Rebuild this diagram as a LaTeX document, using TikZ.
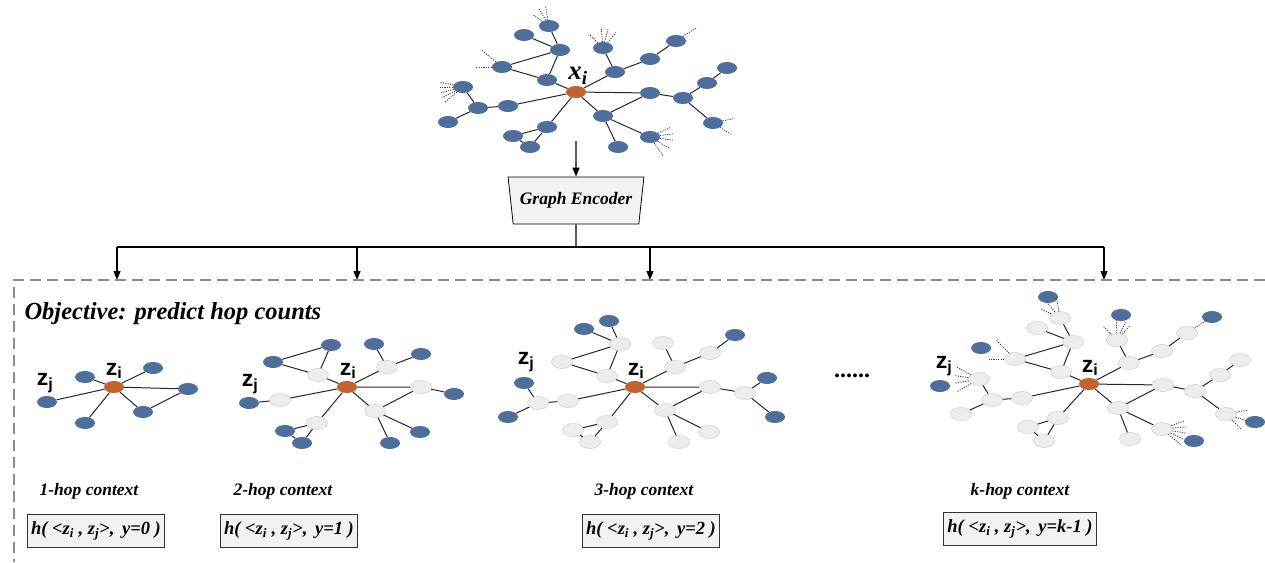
\documentclass[tikz,border=0pt]{standalone}
\usepackage{fontspec}
\setmainfont{Liberation Serif}
\setsansfont{Liberation Sans}
\usetikzlibrary{shapes.geometric,arrows.meta}
\definecolor{nodeblue}{HTML}{4E6F9C}
\definecolor{hubor}{HTML}{C4622D}
\definecolor{pale}{HTML}{EDEDED}
\definecolor{paleedge}{HTML}{CDD3DC}
\definecolor{boxgray}{HTML}{F2F2F2}
\definecolor{dashgray}{HTML}{8C8C8C}
\tikzset{
  bn/.style={ellipse, fill=nodeblue, minimum width=20pt, minimum height=12pt, inner sep=0pt},
  wn/.style={ellipse, fill=pale, draw=paleedge, line width=0.6pt, minimum width=21pt, minimum height=13pt, inner sep=0pt},
  hub/.style={ellipse, fill=hubor, minimum width=20pt, minimum height=12pt, inner sep=0pt},
  link/.style={draw=black!85, line width=1pt},
  fan/.style={draw=black!75, line width=0.8pt, dash pattern=on 1.2pt off 1.2pt},
  flow/.style={draw=black, line width=1.3pt},
  flowarrow/.style={flow, -{Triangle[length=9pt,width=7pt]}},
  enc/.style={trapezium, trapezium left angle=74, trapezium right angle=74, shape border rotate=180,
    draw=black, line width=0.8pt, fill=boxgray, minimum width=136pt, minimum height=47pt, inner sep=0pt,
    trapezium stretches=true, font=\fontsize{17.5}{19}\selectfont\bfseries\itshape},
  ctx/.style={font=\fontsize{17.5}{19}\selectfont\bfseries\itshape},
  hbox/.style={draw=black!80, line width=1pt, fill=boxgray, inner xsep=4pt, inner ysep=7.5pt,
    font=\fontsize{18.5}{20}\selectfont\bfseries\itshape},
  zlab/.style={font=\fontsize{23}{25}\selectfont\sffamily\bfseries},
  xlab/.style={font=\fontsize{27}{29}\selectfont\bfseries\itshape},
  objlab/.style={font=\fontsize{24.5}{27}\selectfont\bfseries\itshape},
  dotslab/.style={font=\fontsize{24}{26}\selectfont\bfseries},
}
\newcommand\dotfan[3]{\foreach \a in {#2} {\draw[fan] (#1) -- ++(\a:#3);}}
\begin{document}
\begin{tikzpicture}[x=1pt,y=-1pt]
\useasboundingbox (0,0) rectangle (1265,562);

% ---------- input graph ----------
\node[hub] (t0) at (576,92) {};
\node[xlab] (tlab) at (578,76) {x\textsubscript{i}};
\foreach \n/\x/\y in {A/549/26,B/524/35,C/560/50,D/502/67,E/547/80,F/603/48,G/615/72,H/650/59,I/676/41,
  J/650/93,K/683/98,L/707/83,M/727/68,N/713/123,O/603/116,P/650/137,Q/618/147,R/547/127,S/513/136,
  T/530/147,U/508/106,V/478/108,W/463/87,X/448/122}
  {\node[bn] (t\n) at (\x,\y) {};}
\draw[link] (tA)--(tC) (tB)--(tC) (tC)--(tD) (tC)--(tE) (tD)--(tE) (tE)--(t0)
  (tF)--(tG) (tG)--(t0) (tG)--(tH) (tH)--(tI) (t0)--(tJ) (tJ)--(tK) (tK)--(tL) (tL)--(tM) (tK)--(tN)
  (t0)--(tO) (tO)--(tJ) (tO)--(tP) (tO)--(tQ) (t0)--(tR) (tR)--(tS) (tR)--(tT) (tS)--(tT)
  (t0)--(tU) (tU)--(tV) (tV)--(tW) (tV)--(tX);
\dotfan{tA}{100,120,145}{20pt}
\dotfan{tD}{140,180}{26pt}
\dotfan{tF}{135,95,75,50}{20pt}
\dotfan{tI}{33}{25pt}
\dotfan{tW}{168,180,195,207,220}{24pt}
\dotfan{tN}{12,-32}{21pt}
\dotfan{tP}{25,8,-8,-30,-55}{23pt}

% ---------- encoder and fan-out ----------
\node[enc] (encoder) at (576,200.5) {Graph Encoder};
\coordinate (src) at (576,141);
\draw[flowarrow] (src) -- (encoder.north);
\coordinate (bus) at (576,247);
\coordinate (busL) at (117,247);
\coordinate (busR) at (1104,247);
\coordinate (bus2) at (357,247);
\coordinate (bus3) at (650,247);
\coordinate (d1) at (117,280);
\coordinate (d2) at (357,280);
\coordinate (d3) at (650,280);
\coordinate (d4) at (1104,280);
\draw[flow] (encoder.south) -- (bus);
\draw[flow] (busL) -- (busR);
\draw[flowarrow] (busL) -- (d1);
\draw[flowarrow] (bus2) -- (d2);
\draw[flowarrow] (bus3) -- (d3);
\draw[flowarrow] (busR) -- (d4);

% ---------- objective frame ----------
\draw[dashgray, line width=1.5pt, dash pattern=on 11pt off 6pt] (1265,280) -- (14,280) -- (14,562);
\node[objlab, anchor=base west] (objective) at (21,319) {Objective: predict hop counts};

% ---------- 1-hop ----------
\node[hub] (p1) at (114,387) {};
\node[zlab] (p1i) at (114,371) {z\textsubscript{i}};
\node[zlab] (p1j) at (45,383) {z\textsubscript{j}};
\foreach \n/\x/\y in {a/47/402,b/85/377,c/153/368,d/188/389,e/143/412,f/85/423}
  {\node[bn] (p1\n) at (\x,\y) {};}
\draw[link] (p1)--(p1a) (p1)--(p1b) (p1)--(p1c) (p1)--(p1d) (p1)--(p1e) (p1e)--(p1d) (p1)--(p1f);

% ---------- 2-hop ----------
\node[hub] (p2) at (347,387) {};
\node[zlab] (p2i) at (348,371) {z\textsubscript{i}};
\node[zlab] (p2j) at (250,384) {z\textsubscript{j}};
\foreach \n/\x/\y in {g1/331/345,g2/273/362,g3/374/344,g4/421/354,g5/249/403,g6/454/394,g7/420/432,
  g8/390/443,g9/285/431,g10/302/443}
  {\node[bn] (p2\n) at (\x,\y) {};}
\foreach \n/\x/\y in {w1/318/375,w2/387/367,w3/280/400,w4/421/387,w5/375/411,w6/317/423}
  {\node[wn] (p2\n) at (\x,\y) {};}
\draw[link] (p2g1)--(p2g2) (p2w1)--(p2g1) (p2w1)--(p2g2) (p2w1)--(p2)
  (p2g3)--(p2w2) (p2w2)--(p2g4) (p2w2)--(p2)
  (p2w3)--(p2) (p2w3)--(p2g5) (p2w4)--(p2) (p2w4)--(p2g6)
  (p2w5)--(p2) (p2w5)--(p2g7) (p2w5)--(p2g8) (p2w5)--(p2w4)
  (p2w6)--(p2) (p2w6)--(p2g9) (p2w6)--(p2g10) (p2g9)--(p2g10);

% ---------- 3-hop ----------
\node[hub] (p3) at (635,387) {};
\node[zlab] (p3i) at (636,371) {z\textsubscript{i}};
\node[zlab] (p3j) at (526,362) {z\textsubscript{j}};
\foreach \n/\x/\y in {b1/584/329,b2/609/321,b3/735/335,b4/524/383,b5/508/417,b6/767/378,b7/775/417}
  {\node[bn] (p3\n) at (\x,\y) {};}
\foreach \n/\x/\y in {a/620/344,b/562/362,c/607/376,d/663/343,e/675/367,f/710/353,g/538/403,h/568/401,
  i/710/387,j/745/393,k/665/410,l/709/432,m/679/442,n/607/422,o/573/430,p/590/442}
  {\node[wn] (p3\n) at (\x,\y) {};}
\draw[link] (p3b1)--(p3a) (p3b2)--(p3a) (p3a)--(p3b) (p3a)--(p3c) (p3b)--(p3c) (p3c)--(p3)
  (p3d)--(p3e) (p3e)--(p3) (p3e)--(p3f) (p3f)--(p3b3)
  (p3b4)--(p3g) (p3g)--(p3b5) (p3g)--(p3h) (p3h)--(p3)
  (p3)--(p3i) (p3i)--(p3j) (p3j)--(p3b6) (p3j)--(p3b7)
  (p3)--(p3k) (p3k)--(p3i) (p3k)--(p3l) (p3k)--(p3m)
  (p3)--(p3n) (p3n)--(p3o) (p3n)--(p3p) (p3o)--(p3p);

\node[dotslab] (gap) at (852,376) {......};

% ---------- k-hop ----------
\node[hub] (pk) at (1089,384) {};
\node[zlab] (pki) at (1090,368) {z\textsubscript{i}};
\node[zlab] (pkj) at (944,366) {z\textsubscript{j}};
\foreach \n/\x/\y in {b1/1048/297,b2/981/348,b3/1121/315,b4/1212/317,b5/940/386,b6/1255/422,b7/1194/441}
  {\node[bn] (pk\n) at (\x,\y) {};}
\foreach \n/\x/\y in {1/1060/318,2/1037/328,3/1073/342,4/1015/359,5/1061/372,6/1117/340,7/1129/363,
  8/1162/351,9/1187/333,10/979/379,11/992/400,12/961/414,13/1022/398,14/1163/385,15/1195/391,
  16/1240/360,17/1220/375,18/1226/414,19/1118/408,20/1130/439,21/1162/429,22/1058/418,23/1028/427,24/1044/441}
  {\node[wn] (pk\n) at (\x,\y) {};}
\draw[link] (pk1)--(pk3) (pk2)--(pk3) (pk3)--(pk4) (pk3)--(pk5) (pk4)--(pk5) (pk5)--(pk)
  (pk6)--(pk7) (pk7)--(pk) (pk7)--(pk8) (pk8)--(pk9)
  (pk10)--(pk11) (pk11)--(pk12) (pk11)--(pk13) (pk13)--(pk)
  (pk)--(pk14) (pk14)--(pk15) (pk15)--(pk17) (pk17)--(pk16) (pk15)--(pk18)
  (pk)--(pk19) (pk19)--(pk14) (pk19)--(pk20) (pk19)--(pk21)
  (pk)--(pk22) (pk22)--(pk23) (pk22)--(pk24) (pk23)--(pk24);
\dotfan{pk1}{155,130,100}{21pt}
\dotfan{pk4}{180,135}{27pt}
\dotfan{pk6}{135,92,65,48}{20pt}
\dotfan{pk9}{33}{24pt}
\dotfan{pk10}{152,172,190,210}{25pt}
\dotfan{pk18}{10,-18,-45}{22pt}
\dotfan{pk21}{20,5,-10,-25,-40}{24pt}

% ---------- captions ----------
\node[ctx] (c1) at (89,491) {1-hop context};
\node[ctx] (c2) at (283,491) {2-hop context};
\node[ctx] (c3) at (644,491) {3-hop context};
\node[ctx] (ck) at (1020,491) {k-hop context};
\node[hbox] (h1) at (96,531) {h( <z\textsubscript{i} , z\textsubscript{j}>,\, y=0 )};
\node[hbox] (h2) at (289,531) {h( <z\textsubscript{i} , z\textsubscript{j}>,\, y=1 )};
\node[hbox] (h3) at (651,531) {h( <z\textsubscript{i} , z\textsubscript{j}>,\, y=2 )};
\node[hbox] (hk) at (1020,529) {h( <z\textsubscript{i} , z\textsubscript{j}>,\, y=k-1 )};
\end{tikzpicture}
\end{document}
